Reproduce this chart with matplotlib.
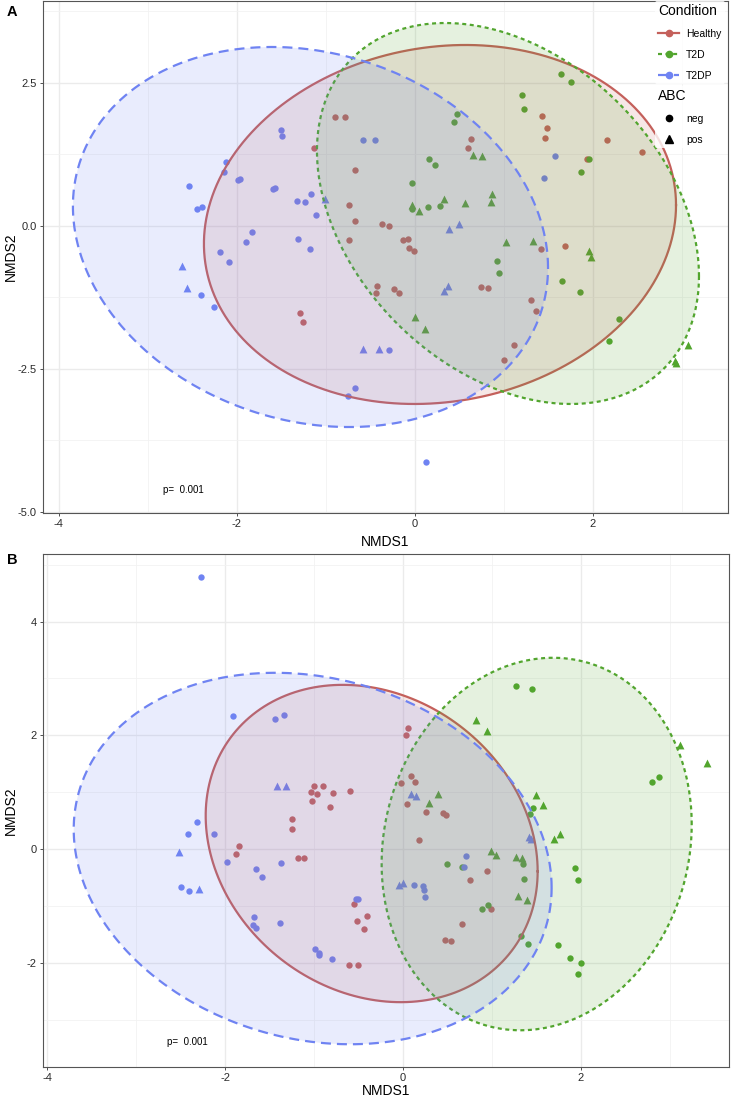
import numpy as np
import matplotlib
matplotlib.use("Agg")
import matplotlib.pyplot as plt
from matplotlib.lines import Line2D

plt.rcParams['font.family'] = ['Liberation Sans', 'DejaVu Sans']
plt.rcParams['axes.unicode_minus'] = False

# ---------------- data ----------------
conditions = ["Healthy", "T2D", "T2DP"]
abc_levels = ["neg", "pos"]
colors = {"Healthy": "#C4605B", "T2D": "#52A52E", "T2DP": "#6F83F2"}
line_styles = {"Healthy": "-", "T2D": (0, (1.8, 1.6)), "T2DP": (0, (4.5, 2.7))}

# Panel A points
A_healthy_neg_x = [-0.89, -0.78, -1.13, -0.67, -0.74, -0.67, -0.74, -0.37, -0.29, -0.13, -0.07, -0.06, -0.01, 0.63, 0.60, 1.43, 1.49, 1.46, 2.16, 2.55, 1.94, 1.69, 1.42, -1.29, -1.25, -0.42, -0.43, -0.23, -0.18, 0.74, 0.82, 1.31, 1.36, 1.12, 1.00]
A_healthy_neg_y = [1.90, 1.90, 1.36, 0.97, 0.36, 0.09, -0.25, 0.03, 0.00, -0.25, -0.23, -0.39, -0.44, 1.52, 1.36, 1.92, 1.70, 1.53, 1.49, 1.29, 1.16, -0.35, -0.41, -1.53, -1.69, -1.05, -1.17, -1.10, -1.18, -1.08, -1.09, -1.30, -1.49, -2.09, -2.35]
A_t2d_neg_x = [1.64, 1.76, 1.21, 1.23, 0.48, 0.44, 0.16, 0.23, -0.03, 0.15, 0.28, -0.03, 1.96, 1.87, 0.92, 0.95, 1.66, 1.86, 2.29, 2.18]
A_t2d_neg_y = [2.65, 2.52, 2.29, 2.04, 1.95, 1.81, 1.17, 1.06, 0.75, 0.33, 0.34, 0.29, 1.16, 0.94, -0.62, -0.83, -0.96, -1.16, -1.63, -2.02]
A_t2d_pos_x = [0.66, 0.76, 0.87, 0.86, 0.57, 0.33, -0.03, 0.05, 1.03, 1.33, 1.96, 1.98, 0.00, 0.12, 3.07, 2.92, 2.94]
A_t2d_pos_y = [1.24, 1.21, 0.56, 0.41, 0.40, 0.47, 0.37, 0.26, -0.28, -0.27, -0.44, -0.54, -1.60, -1.81, -2.09, -2.36, -2.40]
A_t2dp_neg_x = [-2.54, -2.45, -2.39, -2.12, -2.14, -1.98, -1.96, -1.59, -1.57, -1.50, -1.49, -1.32, -1.23, -1.16, -1.11, -0.58, -0.45, -1.83, -1.89, -2.19, -2.09, -1.31, -1.18, -2.40, -2.26, -0.67, -0.75, 0.13, -0.29, 1.58, 1.45]
A_t2dp_neg_y = [0.70, 0.30, 0.33, 1.11, 0.94, 0.80, 0.82, 0.65, 0.66, 1.67, 1.57, 0.43, 0.41, 0.55, 0.18, 1.49, 1.49, -0.11, -0.29, -0.46, -0.63, -0.24, -0.40, -1.22, -1.42, -2.83, -2.97, -4.13, -2.17, 1.21, 0.83]
A_t2dp_pos_x = [-1.01, 0.39, 0.50, -2.61, -2.56, -0.58, -0.40, 0.33, 0.37]
A_t2dp_pos_y = [0.46, -0.06, 0.03, -0.70, -1.09, -2.16, -2.15, -1.14, -1.05]

# Panel B points
B_healthy_neg_x = [-1.00, -0.90, -1.03, -0.97, -0.79, -0.60, -1.02, -0.82, -1.25, -1.25, -1.84, -1.88, -1.18, -1.11, -0.55, -0.52, -0.44, -0.40, -0.61, -0.51, 0.06, 0.03, 0.09, 0.13, -0.02, 0.04, 0.26, 0.45, 0.48, 0.18, 0.94, 0.75, 0.99, 0.66, 0.47, 0.54]
B_healthy_neg_y = [1.11, 1.11, 1.00, 0.97, 0.98, 1.02, 0.85, 0.74, 0.53, 0.35, 0.05, -0.09, -0.15, -0.16, -0.96, -1.26, -1.40, -1.18, -2.04, -2.04, 2.13, 2.00, 1.29, 1.18, 1.16, 0.80, 0.65, 0.64, 0.60, 0.16, -0.38, -0.55, -1.05, -1.32, -1.60, -1.61]
B_t2d_neg_x = [1.27, 1.45, 2.80, 2.88, 1.46, 1.43, 0.49, 0.66, 1.35, 1.36, 1.93, 1.97, 0.89, 0.96, 1.33, 1.41, 1.74, 1.88, 2.00, 1.97]
B_t2d_neg_y = [2.86, 2.82, 1.17, 1.26, 0.72, 0.61, -0.27, -0.32, -0.27, -0.52, -0.33, -0.55, -1.06, -0.99, -1.53, -1.67, -1.68, -1.92, -2.00, -2.20]
B_t2d_pos_x = [0.82, 0.94, 3.11, 3.42, 0.39, 0.29, 1.49, 1.57, 0.99, 1.04, 1.27, 1.34, 1.70, 1.76, 1.29, 1.39]
B_t2d_pos_y = [2.27, 2.07, 1.83, 1.51, 0.97, 0.81, 0.95, 0.78, -0.04, -0.11, -0.14, -0.15, 0.18, 0.26, -0.83, -0.89]
B_t2dp_neg_x = [-2.27, -1.91, -1.44, -1.34, -2.31, -2.42, -2.12, -1.98, -1.65, -1.58, -1.37, -2.49, -2.41, -1.67, -1.69, -1.65, -1.38, -0.99, -0.94, -0.94, -0.80, -0.53, -0.50, 0.71, 0.69, 0.12, 0.23, 0.24, 0.25]
B_t2dp_neg_y = [4.78, 2.34, 2.29, 2.35, 0.48, 0.26, 0.26, -0.22, -0.36, -0.49, -0.24, -0.67, -0.73, -1.20, -1.33, -1.38, -1.30, -1.76, -1.83, -1.87, -1.94, -0.88, -0.87, -0.12, -0.32, -0.64, -0.65, -0.72, -0.85]
B_t2dp_pos_x = [-1.42, -1.32, -2.52, -2.29, 0.09, 0.15, 1.42, 1.44, -0.04, 0.00]
B_t2dp_pos_y = [1.11, 1.11, -0.05, -0.71, 0.96, 0.94, 0.22, 0.17, -0.63, -0.59]

# Ellipse parameters (centre x, centre y, x-extent, y-extent, correlation)
A_ell_cx = [0.284, 1.048, -1.171]
A_ell_cy = [0.021, 0.213, -0.198]
A_ell_sx = [2.652, 2.146, 2.669]
A_ell_sy = [3.138, 3.330, 3.322]
A_ell_r = [0.108, -0.329, -0.162]
B_ell_cx = [-0.352, 1.502, -1.015]
B_ell_cy = [0.097, 0.088, -0.167]
B_ell_sx = [1.865, 1.742, 2.685]
B_ell_sy = [2.790, 3.275, 3.266]
B_ell_r = [-0.175, 0.105, -0.157]

A_xticks = [-4, -2, 0, 2]
A_yticks = [-5.0, -2.5, 0.0, 2.5]
A_yticklabels = ["-5.0", "-2.5", "0.0", "2.5"]
B_xticks = [-4, -2, 0, 2]
B_yticks = [-2, 0, 2, 4]
p_text = "p=  0.001"

# ---------------- figure ----------------
W, H = 739, 1098
fig = plt.figure(figsize=(W / 100, H / 100), dpi=100)

def fig_rect(l, t, r, b):
    return [l / W, 1 - b / H, (r - l) / W, (b - t) / H]

axA = fig.add_axes(fig_rect(43, 1, 728, 513))
axB = fig.add_axes(fig_rect(43, 554, 729, 1067))

grid_major = "#EBEBEB"
grid_minor = "#F2F2F2"

def style_axes(ax, xlim, ylim, xticks, yticks, yticklabels, xminor, yminor, xlab_y):
    ax.set_xlim(*xlim)
    ax.set_ylim(*ylim)
    ax.set_xticks(xticks)
    ax.set_xticklabels([str(v) for v in xticks])
    ax.set_yticks(yticks)
    ax.set_yticklabels(yticklabels)
    ax.set_xticks(xminor, minor=True)
    ax.set_yticks(yminor, minor=True)
    ax.grid(True, which="major", color=grid_major, lw=1.0, zorder=0)
    ax.grid(True, which="minor", color=grid_minor, lw=0.6, zorder=0)
    ax.set_axisbelow(True)
    ax.tick_params(which="major", length=2.5, width=0.6, color="#333333",
                   labelsize=8, labelcolor="#2b2b2b", pad=2)
    ax.tick_params(which="minor", length=0)
    for s in ax.spines.values():
        s.set_color("#555555")
        s.set_linewidth(0.8)
    ax.set_xlabel("NMDS1", fontsize=10)
    ax.set_ylabel("NMDS2", fontsize=10)
    ax.yaxis.set_label_coords(-25 / 686, 0.5)
    ax.xaxis.set_label_coords(0.5, xlab_y)


def ellipse_points(cx, cy, sx, sy, r, n=200):
    M = np.array([[sx * sx, r * sx * sy], [r * sx * sy, sy * sy]])
    L = np.linalg.cholesky(M)
    t = np.linspace(0, 2 * np.pi, n)
    circ = np.vstack([np.cos(t), np.sin(t)])
    pts = L @ circ
    return cx + pts[0], cy + pts[1]


def draw_panel(ax, pts, ell):
    for cond in conditions:
        (nx, ny), (px_, py_) = pts[cond]
        if len(nx):
            ax.scatter(nx, ny, s=21, marker="o", color=colors[cond], lw=0, zorder=2)
        if len(px_):
            ax.scatter(px_, py_, s=32, marker="^", color=colors[cond], lw=0, zorder=2)
    for i, cond in enumerate(conditions):
        ex, ey = ellipse_points(ell[0][i], ell[1][i], ell[2][i], ell[3][i], ell[4][i])
        ax.fill(ex, ey, color=colors[cond], alpha=0.15, lw=0, zorder=3 + i)
        ax.plot(ex, ey, color=colors[cond], lw=1.6, ls=line_styles[cond], zorder=3.5 + i)


ptsA = {
    "Healthy": ((A_healthy_neg_x, A_healthy_neg_y), ([], [])),
    "T2D": ((A_t2d_neg_x, A_t2d_neg_y), (A_t2d_pos_x, A_t2d_pos_y)),
    "T2DP": ((A_t2dp_neg_x, A_t2dp_neg_y), (A_t2dp_pos_x, A_t2dp_pos_y)),
}
ptsB = {
    "Healthy": ((B_healthy_neg_x, B_healthy_neg_y), ([], [])),
    "T2D": ((B_t2d_neg_x, B_t2d_neg_y), (B_t2d_pos_x, B_t2d_pos_y)),
    "T2DP": ((B_t2dp_neg_x, B_t2dp_neg_y), (B_t2dp_pos_x, B_t2dp_pos_y)),
}

style_axes(axA, (-4.176, 3.520), (-5.023, 3.928), A_xticks, A_yticks, A_yticklabels,
           [-3, -1, 1, 3], [-3.75, -1.25, 1.25, 3.75], -22 / 512)
draw_panel(axA, ptsA, (A_ell_cx, A_ell_cy, A_ell_sx, A_ell_sy, A_ell_r))
axA.text(-2.60, -4.62, p_text, fontsize=7, ha="center", va="center", zorder=10)

style_axes(axB, (-4.045, 3.663), (-3.833, 5.188), B_xticks, B_yticks,
           [str(v) for v in B_yticks], [-3, -1, 1, 3], [-3, -1, 1, 3, 5], -17 / 513)
draw_panel(axB, ptsB, (B_ell_cx, B_ell_cy, B_ell_sx, B_ell_sy, B_ell_r))
axB.text(-2.42, -3.40, p_text, fontsize=7, ha="center", va="center", zorder=10)

# panel labels
fig.text(7 / W, 1 - 12 / H, "A", fontsize=10.5, fontweight="bold", ha="left", va="center")
fig.text(7 / W, 1 - 560 / H, "B", fontsize=10.5, fontweight="bold", ha="left", va="center")

# legends (inside panel A, top right)
cond_handles = [Line2D([0], [0], color=colors[c], lw=1.6, ls=line_styles[c], marker="o",
                       markersize=4.5) for c in conditions]
leg1 = axA.legend(cond_handles, conditions, title="Condition", loc="upper left",
                  bbox_to_anchor=(655 / W, 1 - 1 / H), bbox_transform=fig.transFigure,
                  frameon=True, fontsize=7.5, title_fontsize=10, handlelength=2.0,
                  handletextpad=0.7, labelspacing=1.05, borderaxespad=0, borderpad=0.3,
                  alignment="left")
leg1.get_frame().set_facecolor("white")
leg1.get_frame().set_edgecolor("none")
leg1.set_zorder(20)
axA.add_artist(leg1)

shape_handles = [Line2D([0], [0], color="black", lw=0, marker=m, markersize=ms)
                 for m, ms in (("o", 4.5), ("^", 5.5))]
leg2 = axA.legend(shape_handles, abc_levels, title="ABC", loc="upper left",
                  bbox_to_anchor=(655 / W, 1 - 86 / H), bbox_transform=fig.transFigure,
                  frameon=True, fontsize=7.5, title_fontsize=10, handlelength=2.0,
                  handletextpad=0.7, labelspacing=1.05, borderaxespad=0, borderpad=0.3,
                  alignment="left")
leg2.get_frame().set_facecolor("white")
leg2.get_frame().set_edgecolor("none")
leg2.set_zorder(20)

fig.savefig("out.png", dpi=100)
